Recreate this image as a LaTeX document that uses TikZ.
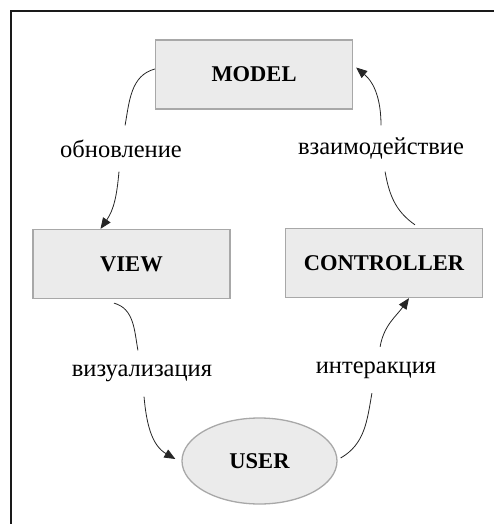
\documentclass[tikz,border=0pt]{standalone}
\usepackage{fontspec}
\setmainfont{Liberation Serif}
\usetikzlibrary{arrows.meta,shapes.geometric}
\definecolor{boxfill}{HTML}{EBEBEB}
\definecolor{boxborder}{HTML}{A8A8A8}
\definecolor{framecol}{HTML}{1A1A1A}
\begin{document}
\begin{tikzpicture}[x=1pt,y=1pt,
  box/.style={draw=boxborder, fill=boxfill, line width=1.3pt, minimum width=197pt, minimum height=69pt, inner sep=0pt, font=\fontsize{22.5}{26}\selectfont\bfseries},
  ell/.style={ellipse, draw=boxborder, fill=boxfill, line width=1.3pt, minimum width=155pt, minimum height=86pt, inner sep=0pt, font=\fontsize{22.5}{26}\selectfont\bfseries},
  lab/.style={inner sep=0pt, minimum height=46pt, font=\fontsize{24.5}{27}\selectfont},
  conn/.style={line width=0.8pt, black!85},
  arr/.style={conn, -{Triangle[length=11pt,width=9pt]}},
]
\useasboundingbox (0,0) rectangle (494,-524);
\draw[framecol, line width=2.2pt] (11,-524) -- (11,-11) -- (494,-11);

\node[box] (model) at (254,-74.5) {MODEL};
\node[box] (view) at (131.5,-264) {VIEW};
\node[box] (ctrl) at (384,-263) {CONTROLLER};
\node[ell] (user) at (259.5,-461) {USER};

\node[lab] (l1) at (121,-148.5) {обновление};
\node[lab] (l2) at (381,-148.5) {взаимодействие};
\node[lab] (l3) at (142,-373.5) {визуализация};
\node[lab] (l4) at (376,-370) {интеракция};

\draw[conn] ([yshift=5.5pt]model.west) to[out=195, in=80] (l1);
\draw[arr] (l1) to[out=-95, in=55] ([xshift=-31pt]view.north);

\draw[conn] ([xshift=31pt,yshift=3pt]ctrl.north) to[out=145, in=-80] (l2);
\draw[arr] (l2) to[out=90, in=-40] ([xshift=3pt,yshift=7pt]model.east);

\draw[conn] ([xshift=-17.5pt,yshift=-4pt]view.south) to[out=-15, in=100] (l3);
\draw[arr] (l3) to[out=-85, in=150] ([xshift=-6pt,yshift=2pt]user.west);

\draw[conn] ([xshift=3pt,yshift=3pt]user.east) to[out=30, in=-100] (l4);
\draw[arr] (l4) to[out=80, in=-125] ([xshift=25pt]ctrl.south);
\end{tikzpicture}
\end{document}
